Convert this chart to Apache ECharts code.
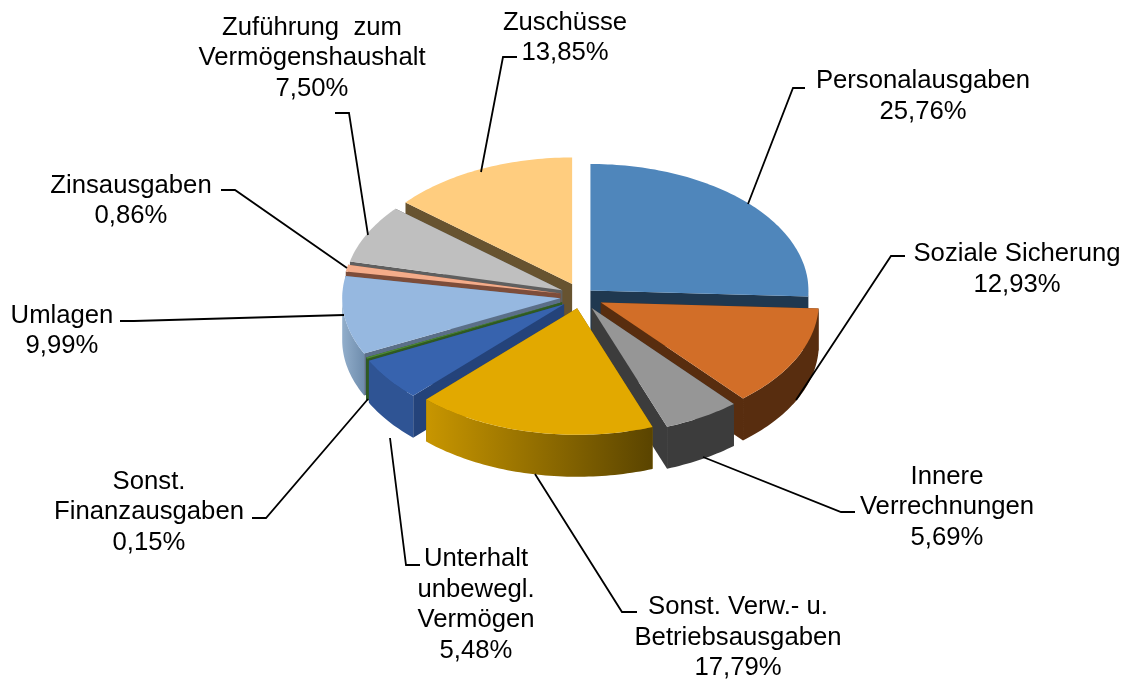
<!DOCTYPE html>
<html>
<head>
<meta charset="utf-8">
<title>Ausgaben</title>
<style>
  html, body { margin: 0; padding: 0; background: #fff; }
  #chart { width: 1134px; height: 686px; }
</style>
</head>
<body>
<div id="chart"></div>
<script src="https://cdn.jsdelivr.net/npm/echarts@6/dist/echarts.min.js"></script>
<script>
// clockwise from 12 o'clock
const categories = [
  "Personalausgaben",
  "Soziale Sicherung",
  "Innere\nVerrechnungen",
  "Sonst. Verw.- u.\nBetriebsausgaben",
  "Unterhalt\nunbewegl.\nVermögen",
  "Sonst.\nFinanzausgaben",
  "Umlagen",
  "Zinsausgaben",
  "Zuführung  zum\nVermögenshaushalt",
  "Zuschüsse"
];
const shares = [25.76, 12.93, 5.69, 17.79, 5.48, 0.15, 9.99, 0.86, 7.5, 13.85];

// how far each slice is pulled out
const explode = [0.62, 1.05, 1, 0.9, 1, 1, 1, 1, 1, 1];

const topColors = ["#4f86bb", "#d26e28", "#969696", "#e2a900", "#3763ae", "#4e8a35", "#96b8e0", "#f4ac8a", "#bfbfbf", "#ffcd7f"];
const sideColors = ["#1f3850", "#582d0f", "#3c3c3c", "#8a6800", "#24437a", "#2f5a22", "#5b6f88", "#7d4d3a", "#5f5f5f", "#675330"];
const wallStops = [
  ["#1f3850", "#1f3850"],
  ["#582d0f", "#582d0f"],
  ["#3c3c3c", "#3c3c3c"],
  ["#c89600", "#5a4400"],
  ["#2f5494", "#2f5494"],
  ["#2f5a22", "#2f5a22"],
  ["#92aecb", "#6f8dad"],
  ["#7d4d3a", "#7d4d3a"],
  ["#5f5f5f", "#5f5f5f"],
  ["#675330", "#675330"]
];

// label centre and leader line for each category
const labelCenters = [[923, 96.5], [1017, 269.5], [947, 507], [738, 637.5], [476, 605], [149, 512], [62, 331], [131, 201], [312, 58], [565, 38]];
const leaders = [
  [[805, 88], [793, 88], [748, 204]],
  [[905, 256], [891, 256], [796, 400]],
  [[855, 512], [841, 512], [703, 457]],
  [[637, 612], [622, 612], [535, 474]],
  [[420, 565], [406, 565], [390, 438]],
  [[252, 518], [266, 518], [368, 399]],
  [[120, 321], [134, 321], [344, 315]],
  [[221, 190], [235, 190], [347, 268]],
  [[335, 113], [349, 113], [368, 235]],
  [[517, 57], [503, 57], [481, 172]]
];

const CX = 581, CY = 296.3, RX = 218, RY = 126.5, DEPTH = 42;
const EXPLODE_X = 21, EXPLODE_Y = 13.6;

const rad = (share) => (share / 100) * Math.PI * 2;
const starts = [];
shares.reduce((sum, v, i) => { starts[i] = sum; return sum + v; }, 0);

const apexOf = (i) => {
  const mid = rad(starts[i] + shares[i] / 2);
  return [CX + EXPLODE_X * explode[i] * Math.sin(mid), CY - EXPLODE_Y * explode[i] * Math.cos(mid)];
};
const rimPoint = (apex, a, drop) => [apex[0] + RX * Math.sin(a), apex[1] - RY * Math.cos(a) + (drop || 0)];

const arcPoints = (apex, a0, a1, drop) => {
  const steps = Math.max(2, Math.ceil((a1 - a0) / 0.02));
  const pts = [];
  for (let k = 0; k <= steps; k++) pts.push(rimPoint(apex, a0 + ((a1 - a0) * k) / steps, drop));
  return pts;
};

const renderSlice = (params, api) => {
  const i = api.value(0);
  const a0 = rad(starts[i]);
  const a1 = rad(starts[i] + shares[i]);
  const apex = apexOf(i);
  const apexLow = [apex[0], apex[1] + DEPTH];
  const children = [];

  [a0, a1].forEach((a) => {
    children.push({
      type: "polygon",
      shape: { points: [apex, rimPoint(apex, a), rimPoint(apex, a, DEPTH), apexLow] },
      style: { fill: sideColors[i] }
    });
  });

  // outer wall only shows on the front half
  const w0 = Math.max(a0, Math.PI / 2);
  const w1 = Math.min(a1, (Math.PI * 3) / 2);
  if (w1 > w0) {
    const upper = arcPoints(apex, w0, w1, 0);
    const lower = arcPoints(apex, w0, w1, DEPTH).reverse();
    children.push({
      type: "polygon",
      shape: { points: upper.concat(lower) },
      style: {
        fill: new echarts.graphic.LinearGradient(0, 0, 1, 0, [
          { offset: 0, color: wallStops[i][0] },
          { offset: 1, color: wallStops[i][1] }
        ])
      }
    });
  }

  children.push({
    type: "polygon",
    shape: { points: [apex].concat(arcPoints(apex, a0, a1, 0)) },
    style: { fill: topColors[i] }
  });
  return { type: "group", children };
};

const renderLabel = (params, api) => {
  const i = api.value(0);
  const text = categories[i] + "\n" + shares[i].toFixed(2).replace(".", ",") + "%";
  return {
    type: "group",
    children: [
      {
        type: "polyline",
        shape: { points: leaders[i] },
        style: { stroke: "#000", lineWidth: 1.8, fill: null }
      },
      {
        type: "text",
        style: {
          x: labelCenters[i][0],
          y: labelCenters[i][1],
          text,
          fill: "#000",
          fontFamily: "Liberation Sans",
          fontSize: 25.7,
          lineHeight: 30.5,
          align: "center",
          verticalAlign: "middle"
        }
      }
    ]
  };
};

// back to front so the nearer slices cover the far ones
const drawOrder = shares
  .map((v, i) => i)
  .sort((p, q) => Math.cos(rad(starts[q] + shares[q] / 2)) - Math.cos(rad(starts[p] + shares[p] / 2)));

const chart = echarts.init(document.getElementById("chart"), null, { renderer: "canvas" });
chart.setOption({
  animation: false,
  backgroundColor: "#fff",
  series: [
    {
      type: "custom",
      coordinateSystem: "none",
      renderItem: renderSlice,
      data: drawOrder.map((i) => [i, shares[i]]),
      encode: { value: 1 },
      z: 1
    },
    {
      type: "custom",
      coordinateSystem: "none",
      renderItem: renderLabel,
      data: categories.map((c, i) => [i, shares[i]]),
      z: 2
    }
  ]
});
</script>
</body>
</html>
